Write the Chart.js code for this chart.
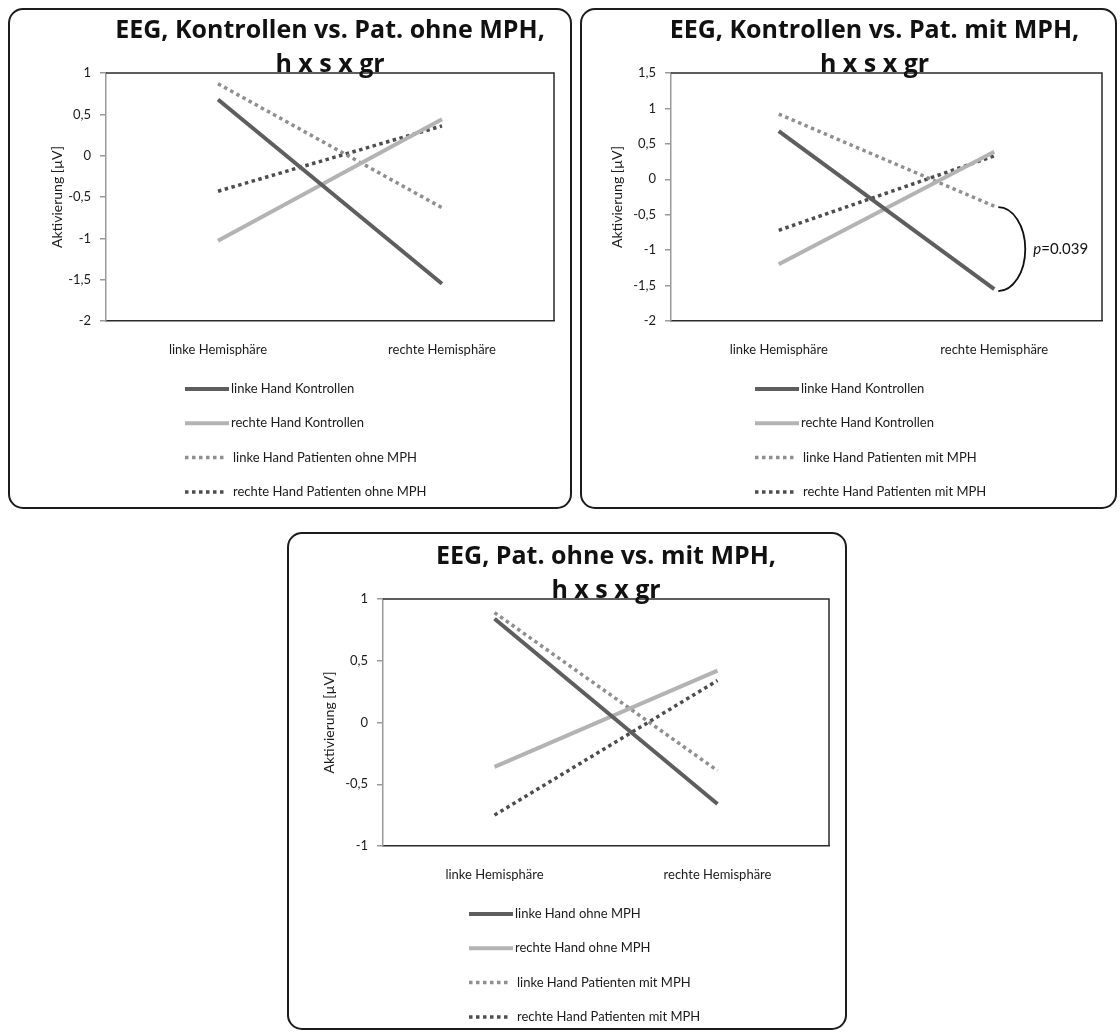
<!DOCTYPE html>
<html>
<head>
<meta charset="utf-8">
<script src="https://cdn.jsdelivr.net/npm/chart.js@4.4.0/dist/chart.umd.min.js"></script>
<style>
  html, body { margin: 0; padding: 0; background: #ffffff; }
  body { width: 1120px; height: 1034px; position: relative; overflow: hidden; }
  .panel { position: absolute; box-sizing: border-box; border: 2px solid #1c1c1c; border-radius: 15px; }
  canvas { position: absolute; }
</style>
</head>
<body>
<div class="panel" id="boxA"></div>
<div class="panel" id="boxB"></div>
<div class="panel" id="boxC"></div>
<canvas id="chartA"></canvas>
<canvas id="chartB"></canvas>
<canvas id="chartC"></canvas>
<script>
// ---------- shared ----------
const categories = ['linke Hemisphäre', 'rechte Hemisphäre'];
const yAxisTitle = 'Aktivierung [µV]';

// ---------- Kontrollen vs. Patienten ohne MPH ----------
const titleA = ['EEG, Kontrollen vs. Pat. ohne MPH,', 'h x s x gr'];
const namesA = ['linke Hand Kontrollen', 'rechte Hand Kontrollen',
                'linke Hand Patienten ohne MPH', 'rechte Hand Patienten ohne MPH'];
const linkeKontrollenA  = [0.68, -1.55];
const rechteKontrollenA = [-1.03, 0.44];
const linkeOhneMphA     = [0.87, -0.63];
const rechteOhneMphA    = [-0.43, 0.36];
const yTicksA = [1, 0.5, 0, -0.5, -1, -1.5, -2];

// ---------- Kontrollen vs. Patienten mit MPH ----------
const titleB = ['EEG, Kontrollen vs. Pat. mit MPH,', 'h x s x gr'];
const namesB = ['linke Hand Kontrollen', 'rechte Hand Kontrollen',
                'linke Hand Patienten mit MPH', 'rechte Hand Patienten mit MPH'];
const linkeKontrollenB  = [0.68, -1.55];
const rechteKontrollenB = [-1.2, 0.39];
const linkeMitMphB      = [0.92, -0.38];
const rechteMitMphB     = [-0.72, 0.33];
const yTicksB = [1.5, 1, 0.5, 0, -0.5, -1, -1.5, -2];
const pValueB = 'p=0.039';

// ---------- Patienten ohne vs. mit MPH ----------
const titleC = ['EEG, Pat. ohne vs. mit MPH,', 'h x s x gr'];
const namesC = ['linke Hand ohne MPH', 'rechte Hand ohne MPH',
                'linke Hand Patienten mit MPH', 'rechte Hand Patienten mit MPH'];
const linkeOhneMphC  = [0.84, -0.66];
const rechteOhneMphC = [-0.36, 0.42];
const linkeMitMphC   = [0.89, -0.39];
const rechteMitMphC  = [-0.75, 0.34];
const yTicksC = [1, 0.5, 0, -0.5, -1];

// line looks, in series order: dark solid, light solid, light dotted, dark dotted
const lineStyles = [
  { color: '#5e5e5e', width: 4,   dash: [] },
  { color: '#b3b3b3', width: 4,   dash: [] },
  { color: '#8f8f8f', width: 3.5, dash: [3.5, 3.5] },
  { color: '#4d4d4d', width: 3.5, dash: [3.5, 3.5] }
];

const FONT = 'Lato, "Open Sans", sans-serif';
const TITLE_FONT = 'bold 25px "Open Sans", sans-serif';

// page geometry of each panel: outer box, plot area, axis-title x, legend x, heading shift
const panels = {
  chartA: { box: [8, 8, 564, 501],   area: [106, 73, 554, 321], yTitleX: 57,  legendX: 185, titleShift: 0,
            title: titleA, names: namesA, ticks: yTicksA, min: -2, max: 1,
            series: [linkeKontrollenA, rechteKontrollenA, linkeOhneMphA, rechteOhneMphA] },
  chartB: { box: [580, 8, 537, 501], area: [671, 73, 1102, 321], yTitleX: 617, legendX: 755, titleShift: -12,
            title: titleB, names: namesB, ticks: yTicksB, min: -2, max: 1.5,
            series: [linkeKontrollenB, rechteKontrollenB, linkeMitMphB, rechteMitMphB],
            bracket: { upper: 2, lower: 0, index: 1, text: pValueB } },
  chartC: { box: [287, 532, 560, 498], area: [383, 599, 829, 846], yTitleX: 329, legendX: 469, titleShift: 0,
            title: titleC, names: namesC, ticks: yTicksC, min: -1, max: 1,
            series: [linkeOhneMphC, rechteOhneMphC, linkeMitMphC, rechteMitMphC] }
};

const X_AXIS_H = 40;
const LEGEND_ROWS = [68, 102.3, 136.6, 171];

const decor = {
  id: 'decor',
  beforeDatasetsDraw(chart) {
    const { ctx, chartArea: a } = chart;
    ctx.save();
    ctx.strokeStyle = '#2a2a2a';
    ctx.lineWidth = 1.5;
    ctx.beginPath();
    ctx.moveTo(a.left, a.top);
    ctx.lineTo(a.right, a.top);
    ctx.lineTo(a.right, a.bottom);
    ctx.stroke();
    ctx.restore();
  },
  afterDraw(chart) {
    const cfg = panels[chart.canvas.id];
    const { ctx, chartArea: a } = chart;
    const cx = (a.left + a.right) / 2 + cfg.titleShift;
    ctx.save();

    // two-line heading; the second line sits on the plot frame
    ctx.fillStyle = '#111';
    ctx.font = TITLE_FONT;
    ctx.textAlign = 'center';
    ctx.textBaseline = 'alphabetic';
    ctx.fillText(cfg.title[0], cx, a.top - 35);
    ctx.fillText(cfg.title[1], cx, a.top - 1);

    // vertical legend with line samples
    const lx = cfg.legendX - cfg.box[0];
    ctx.font = '13px ' + FONT;
    ctx.textAlign = 'left';
    ctx.textBaseline = 'middle';
    chart.data.datasets.forEach((ds, i) => {
      const y = a.bottom + LEGEND_ROWS[i];
      const dotted = ds.borderDash && ds.borderDash.length;
      ctx.beginPath();
      ctx.strokeStyle = ds.borderColor;
      ctx.lineWidth = ds.borderWidth;
      ctx.setLineDash(ds.borderDash || []);
      ctx.moveTo(lx, y);
      ctx.lineTo(lx + (dotted ? 40 : 44), y);
      ctx.stroke();
      ctx.setLineDash([]);
      ctx.fillStyle = '#1a1a1a';
      ctx.fillText(ds.label, lx + (dotted ? 48 : 46), y);
    });

    // significance bracket between two series at one category
    if (cfg.bracket) {
      const b = cfg.bracket;
      const xs = chart.scales.x, ys = chart.scales.y;
      const px = xs.getPixelForValue(b.index) + 4;
      const yTop = ys.getPixelForValue(chart.data.datasets[b.upper].data[b.index]) + 1;
      const yBot = ys.getPixelForValue(chart.data.datasets[b.lower].data[b.index]) + 2;
      const rx = 27, ry = (yBot - yTop) / 2, cy = (yTop + yBot) / 2;
      ctx.beginPath();
      ctx.strokeStyle = '#111';
      ctx.lineWidth = 1.8;
      ctx.ellipse(px, cy, rx, ry, 0, -Math.PI / 2, Math.PI / 2);
      ctx.stroke();
      const tx = px + rx + 8;
      ctx.fillStyle = '#111';
      ctx.font = 'italic 15px ' + FONT;
      ctx.fillText(b.text[0], tx, cy);
      const w = ctx.measureText(b.text[0]).width;
      ctx.font = '15px ' + FONT;
      ctx.fillText(b.text.slice(1), tx + w, cy);
    }
    ctx.restore();
  }
};

function build(id) {
  const cfg = panels[id];
  const [bx, by, bw, bh] = cfg.box;
  const [al, at, ar, ab] = cfg.area;
  const canvas = document.getElementById(id);
  canvas.width = bw; canvas.height = bh;
  canvas.style.left = bx + 'px'; canvas.style.top = by + 'px';
  canvas.style.width = bw + 'px'; canvas.style.height = bh + 'px';

  const box = document.getElementById(id.replace('chart', 'box'));
  Object.assign(box.style, { left: bx + 'px', top: by + 'px', width: bw + 'px', height: bh + 'px' });

  const yTitleFont = 14;
  const yTitlePad = (cfg.yTitleX - bx) - yTitleFont * 1.2 / 2;

  new Chart(canvas, {
    type: 'line',
    data: {
      labels: categories,
      datasets: cfg.series.map((vals, i) => ({
        label: cfg.names[i],
        data: vals,
        borderColor: lineStyles[i].color,
        backgroundColor: lineStyles[i].color,
        borderWidth: lineStyles[i].width,
        borderDash: lineStyles[i].dash,
        borderCapStyle: 'butt',
        pointRadius: 0,
        pointHoverRadius: 0,
        tension: 0,
        fill: false
      }))
    },
    options: {
      responsive: false,
      animation: false,
      devicePixelRatio: 1,
      layout: { padding: { left: 0, top: at - by, right: bx + bw - ar, bottom: by + bh - ab - X_AXIS_H } },
      plugins: { legend: { display: false }, title: { display: false }, tooltip: { enabled: false } },
      scales: {
        x: {
          type: 'category',
          offset: true,
          grid: { display: false },
          border: { color: '#2a2a2a', width: 1.5 },
          ticks: { color: '#1a1a1a', font: { family: FONT, size: 13 }, padding: 13, maxRotation: 0 },
          afterFit: s => { s.height = X_AXIS_H; }
        },
        y: {
          min: cfg.min, max: cfg.max,
          afterBuildTicks: s => { s.ticks = cfg.ticks.map(v => ({ value: v })); },
          grid: { drawOnChartArea: false, drawTicks: true, tickLength: 6, color: '#9a9a9a', lineWidth: 1.5 },
          border: { color: '#9a9a9a', width: 1.5 },
          ticks: {
            color: '#1a1a1a', font: { family: FONT, size: 13 }, padding: 9,
            callback: v => String(v).replace('.', ',')
          },
          title: {
            display: true, text: yAxisTitle, color: '#1a1a1a',
            font: { family: FONT, size: yTitleFont }, padding: { top: yTitlePad, bottom: 0 }
          },
          afterFit: s => { s.width = al - bx; }
        }
      }
    },
    plugins: [decor]
  });
}

['chartA', 'chartB', 'chartC'].forEach(build);
</script>
</body>
</html>
